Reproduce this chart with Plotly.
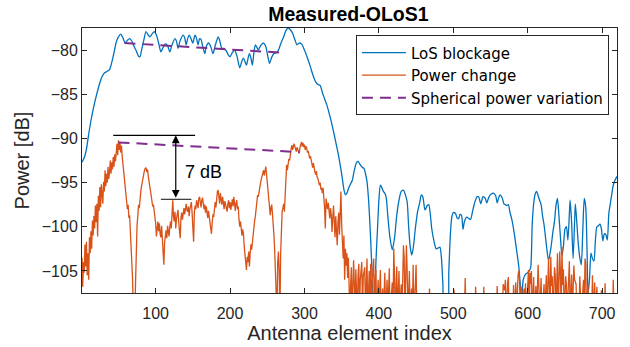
import plotly.graph_objects as go

# ---------------- data ----------------
# LoS blockage (blue): (antenna element index, power dB)
los_points = [
    (1, -92.7), (4, -92.2), (7, -91.2), (10, -89.5), (13, -88.0), (16, -86.7), (19, -85.6),
    (22, -84.6), (25, -83.7), (28, -83.0), (31, -82.6), (35, -82.4), (38, -82.2), (41, -81.4),
    (44, -80.3), (47, -79.1), (50, -78.5), (53, -78.2), (56, -78.6), (59, -79.2), (62, -78.9),
    (65, -78.7), (68, -79.0), (71, -79.6), (74, -80.1), (77, -80.7), (79, -80.75), (81, -80.0),
    (84, -78.9), (87, -77.9), (90, -78.3), (92, -78.5), (95, -78.2), (98, -77.9), (101, -78.3),
    (104, -79.2), (107, -80.2), (110, -79.7), (113, -79.3), (116, -79.5), (119, -80.2),
    (122, -79.4), (126, -78.7), (128, -79.0), (130, -79.8), (133, -78.9), (137, -78.3),
    (139, -78.6), (141, -79.4), (143, -78.7), (145, -78.3), (147, -78.6), (150, -79.2),
    (152, -78.5), (153, -78.3), (155, -78.7), (157, -79.4), (159, -78.7), (161, -78.8),
    (163, -79.5), (166, -80.4), (168, -79.6), (171, -79.2), (174, -79.6), (177, -80.4),
    (180, -79.5), (184, -78.5), (186, -78.9), (189, -79.8), (192, -79.8), (195, -80.1),
    (198, -80.6), (200, -80.75), (203, -80.3), (206, -80.0), (209, -80.6), (213, -82.0),
    (216, -81.2), (218, -80.9), (220, -81.3), (222, -81.7), (224, -81.0), (226, -80.4),
    (228, -80.9), (230, -81.7), (232, -80.3), (234, -79.4), (236, -79.7), (238, -80.0),
    (241, -79.5), (245, -79.2), (248, -79.6), (250, -80.4), (253, -81.5), (256, -80.8),
    (259, -80.4), (262, -80.3), (265, -80.0), (268, -79.3), (272, -78.5), (275, -77.8),
    (278, -77.5), (281, -77.7), (284, -78.1), (287, -78.8), (290, -79.4), (293, -79.2),
    (296, -79.3), (300, -80.0), (304, -80.9), (308, -81.9), (312, -83.0), (315, -83.6),
    (318, -83.9), (321, -84.0), (324, -84.8), (327, -85.5), (330, -86.2), (333, -87.1),
    (336, -88.1), (339, -89.2), (342, -90.4), (345, -91.6), (348, -93.0), (351, -94.6),
    (353, -95.8), (355, -96.4), (357, -96.2), (359, -95.7), (361, -95.3), (364, -94.8),
    (367, -93.6), (370, -92.7), (372, -92.6), (375, -93.0), (378, -93.3), (380, -93.4),
    (382, -94.0), (384, -94.9), (386, -96.8), (388, -99.8), (390, -103.5), (392, -107.6),
    (394, -110.0), (396, -104.0), (398, -100.5), (400, -97.0), (402, -95.3), (404, -95.6),
    (406, -96.0), (408, -96.2), (410, -96.8), (412, -98.8), (415, -101.3), (418, -102.6),
    (421, -101.3), (424, -98.7), (427, -97.0), (430, -96.0), (433, -95.85), (436, -96.5),
    (438, -97.2), (440, -100.0), (442, -102.2), (444, -103.2), (446, -102.5), (449, -100.2),
    (452, -98.3), (455, -97.2), (457, -96.4), (459, -96.6), (462, -98.1), (465, -97.6),
    (467, -97.5), (469, -98.5), (471, -100.2), (474, -101.6), (477, -102.5), (480, -102.4),
    (482, -102.3), (484, -103.5), (486, -106.5), (488, -110.0), (492, -110.0), (494, -105.0),
    (496, -101.0), (498, -98.9), (500, -98.4), (503, -98.5), (505, -99.0), (507, -99.1),
    (509, -98.6), (511, -98.7), (513, -100.3), (515, -99.4), (518, -98.9), (520, -99.0),
    (523, -99.2), (526, -98.2), (529, -97.2), (532, -96.6), (534, -96.6), (537, -97.4),
    (540, -96.6), (543, -96.8), (545, -97.3), (548, -96.6), (551, -96.3), (554, -96.2),
    (557, -96.5), (559, -97.3), (561, -96.7), (563, -96.4), (566, -96.8), (568, -97.4),
    (570, -97.5), (572, -97.6), (574, -97.5), (576, -98.3), (579, -99.3), (582, -100.8),
    (585, -102.6), (588, -104.5), (590, -106.5), (592, -108.0), (594, -106.0), (597, -105.4),
    (600, -105.2), (602, -105.0), (604, -104.6), (606, -99.8), (608, -97.4), (610, -96.3),
    (612, -96.0), (614, -96.5), (616, -97.0), (618, -97.5), (620, -98.8), (622, -99.8),
    (625, -102.0), (628, -103.8), (631, -102.5), (634, -100.5), (636, -99.4), (638, -97.6),
    (640, -96.8), (642, -98.8), (644, -101.2), (646, -103.3), (648, -102.2), (650, -100.3),
    (652, -100.0), (654, -101.5), (656, -98.5), (657, -97.0), (659, -99.5), (661, -103.6),
    (663, -99.5), (664, -97.4), (666, -99.5), (668, -102.0), (670, -103.5), (672, -104.3),
    (674, -100.5), (676, -96.8), (678, -97.8), (680, -103.8), (681, -107.6), (683, -106.0),
    (685, -103.0), (687, -103.6), (689, -103.9), (691, -101.5), (693, -100.0), (695, -99.9),
    (697, -99.7), (699, -100.2), (701, -101.6), (703, -100.8), (705, -100.9), (707, -101.5),
    (709, -98.5), (711, -97.4), (713, -96.3), (715, -95.3), (717, -94.8), (720, -94.3),
]

# Power change (orange): (antenna element index, power dB); -110 = below the axis
pc_points = [
    (1, -103.5), (2, -106.8), (3, -104.0), (4, -105.2), (5, -102.0), (6, -104.5), (7, -101.7),
    (8, -105.5), (9, -103.0), (10, -106.0), (11, -101.2), (12, -103.0), (13, -100.5), (14, -102.5),
    (15, -99.3), (16, -101.0), (17, -98.8), (18, -100.2), (19, -97.6), (20, -99.5), (21, -97.4),
    (22, -101.1), (23, -96.5), (24, -98.2), (25, -95.5), (26, -97.8), (27, -95.2), (28, -96.9),
    (29, -97.4), (30, -94.9), (31, -96.0), (32, -93.6), (33, -95.4), (34, -94.0), (35, -95.0),
    (36, -93.2), (37, -94.6), (38, -93.8), (39, -92.5), (40, -94.0), (41, -92.7), (42, -93.5),
    (43, -92.1), (44, -93.2), (45, -91.8), (46, -92.6), (47, -91.4), (48, -90.6), (49, -91.9),
    (50, -90.2), (51, -91.3), (52, -90.5), (53, -91.6), (54, -90.8), (55, -92.0), (56, -92.9),
    (57, -93.7), (58, -94.8), (59, -95.5), (60, -96.3), (61, -97.2), (62, -98.0), (63, -97.5),
    (64, -99.0), (65, -98.7), (66, -100.3), (67, -101.8), (68, -103.7), (69, -106.0), (70, -110.0),
    (72, -110.0), (73, -106.2), (74, -102.0), (75, -99.8), (76, -98.8), (77, -97.5), (78, -97.9),
    (79, -96.6), (80, -96.0), (81, -95.4), (82, -94.8), (83, -94.5), (84, -94.0), (85, -93.6),
    (86, -93.4), (87, -93.3), (88, -93.8), (89, -93.5), (90, -94.2), (91, -94.6), (92, -95.4),
    (93, -95.9), (94, -96.4), (95, -97.1), (96, -97.7), (97, -97.5), (98, -98.2), (99, -98.5),
    (100, -99.6), (101, -101.1), (102, -100.0), (103, -99.4), (104, -100.5), (105, -99.6),
    (106, -100.8), (107, -101.2), (108, -99.9), (109, -101.5), (110, -102.6), (111, -104.3),
    (112, -101.8), (113, -100.6), (114, -100.4), (115, -101.3), (116, -99.9), (117, -100.5),
    (118, -101.1), (119, -100.0), (120, -99.4), (121, -100.2), (122, -98.6), (123, -97.0),
    (124, -98.9), (125, -99.4), (126, -98.3), (127, -100.2), (128, -99.1), (129, -98.3),
    (130, -98.1), (131, -99.5), (132, -100.6), (133, -101.3), (134, -99.0), (135, -98.4),
    (136, -99.2), (137, -98.5), (138, -97.9), (139, -98.6), (140, -97.8), (141, -97.4),
    (142, -98.1), (143, -98.3), (144, -97.7), (145, -98.8), (146, -98.0), (147, -97.5),
    (148, -97.2), (149, -98.5), (150, -99.6), (151, -101.7), (152, -98.4), (153, -97.6),
    (154, -98.0), (155, -97.0), (156, -97.4), (157, -97.9), (158, -96.8), (159, -96.6),
    (160, -97.2), (161, -97.8), (162, -97.0), (163, -96.7), (164, -97.4), (165, -98.0),
    (166, -97.5), (167, -98.4), (168, -97.7), (169, -98.6), (170, -99.0), (171, -98.2),
    (172, -98.8), (173, -99.2), (174, -99.9), (175, -100.8), (176, -99.5), (177, -98.6),
    (178, -98.9), (179, -97.7), (180, -97.2), (181, -97.8), (182, -96.5), (183, -96.0),
    (184, -95.85), (185, -96.8), (186, -97.4), (187, -96.2), (188, -96.9), (189, -97.5),
    (190, -96.6), (191, -97.3), (192, -98.0), (193, -97.1), (194, -97.6), (195, -97.7),
    (196, -98.3), (197, -97.4), (198, -97.0), (199, -97.9), (200, -97.2), (201, -98.1),
    (202, -97.5), (203, -96.9), (204, -97.7), (205, -96.6), (206, -97.3), (207, -98.2),
    (208, -97.4), (209, -97.0), (210, -98.0), (211, -97.7), (212, -99.2), (213, -100.0),
    (214, -99.4), (215, -100.5), (216, -101.0), (217, -100.3), (218, -100.8), (219, -102.2),
    (220, -103.0), (221, -103.8), (222, -104.9), (223, -103.4), (224, -104.0), (225, -102.8),
    (226, -104.5), (227, -103.0), (228, -102.0), (229, -102.6), (230, -101.5), (231, -101.1),
    (232, -100.0), (233, -99.3), (234, -98.8), (235, -98.1), (236, -97.0), (237, -96.4),
    (238, -96.6), (239, -95.9), (240, -95.5), (241, -95.0), (242, -94.6), (243, -94.3),
    (244, -94.1), (245, -93.6), (246, -94.2), (247, -93.7), (248, -93.2), (249, -94.0),
    (250, -94.9), (251, -95.6), (252, -96.6), (253, -98.1), (254, -98.7), (255, -97.8),
    (256, -97.5), (257, -98.6), (258, -99.5), (259, -101.0), (260, -102.8), (261, -104.9),
    (262, -107.4), (263, -110.0), (264, -104.0), (265, -102.8), (266, -105.0), (267, -110.0),
    (268, -103.0), (269, -98.7), (270, -98.2), (271, -97.9), (272, -97.4), (273, -98.3),
    (274, -96.5), (275, -94.7), (276, -93.0), (277, -93.6), (278, -92.8), (279, -92.3),
    (280, -92.5), (281, -91.6), (282, -91.2), (283, -90.75), (284, -91.3), (285, -91.0),
    (286, -90.6), (287, -90.9), (288, -91.2), (289, -91.5), (290, -91.0), (291, -91.3),
    (292, -91.6), (293, -91.7), (294, -91.0), (295, -90.7), (296, -90.4), (297, -90.9),
    (298, -90.5), (299, -91.0), (300, -90.7), (301, -91.3), (302, -90.9), (303, -91.1),
    (304, -91.6), (305, -91.4), (306, -92.0), (307, -92.26), (308, -92.0), (309, -92.6),
    (310, -92.9), (311, -93.3), (312, -92.8), (313, -93.5), (314, -93.8), (315, -94.1),
    (316, -93.7), (317, -94.4), (318, -94.5), (319, -94.9), (320, -95.3), (321, -95.0),
    (322, -95.7), (323, -95.65), (324, -96.2), (325, -95.6), (326, -96.5), (327, -97.8),
    (328, -100.2), (329, -96.8), (330, -97.4), (331, -98.0), (332, -97.3), (333, -98.4),
    (334, -99.05), (335, -97.9), (336, -98.6), (337, -100.6), (338, -98.2), (339, -97.6),
    (340, -99.3), (341, -101.2), (342, -98.8), (343, -100.4), (344, -102.1), (345, -99.5),
    (346, -98.4), (347, -100.9), (348, -97.5), (349, -96.0), (350, -99.8), (351, -101.8),
    (352, -103.6), (353, -101.0), (354, -106.0), (355, -102.5), (356, -104.4), (357, -103.0),
    (358, -105.8), (359, -103.5), (360, -106.9), (361, -110.0), (362, -106.6), (363, -104.6),
    (364, -110.0), (365, -105.0), (366, -103.8), (367, -106.5), (368, -110.0), (369, -104.8),
    (370, -106.5), (371, -110.0), (372, -105.5), (373, -104.2), (374, -110.0), (375, -106.0),
    (377, -104.0), (378, -110.0), (379, -105.6), (381, -104.6), (382, -110.0), (383, -106.5),
    (384, -103.6), (385, -110.0), (386, -106.0), (387, -105.0), (388, -110.0), (389, -104.2),
    (390, -110.0), (391, -106.2), (393, -103.6), (394, -110.0), (395, -106.0), (396, -104.8),
    (397, -110.0), (399, -106.0), (400, -110.0), (402, -104.9), (403, -110.0), (405, -107.0),
    (406, -110.0), (408, -105.2), (409, -110.0), (411, -106.0), (412, -110.0), (414, -104.7),
    (415, -110.0), (418, -106.3), (419, -110.0), (420, -102.45), (421, -105.5), (422, -110.0),
    (424, -104.5), (425, -110.0), (427, -105.0), (428, -110.0), (430, -106.5), (431, -110.0),
    (433, -102.1), (434, -103.5), (435, -110.0), (437, -102.1), (438, -105.0), (439, -110.0),
    (441, -105.0), (442, -110.0), (444, -107.0), (445, -110.0), (446, -104.3), (447, -110.0),
    (449, -106.5), (450, -104.3), (451, -110.0), (467, -110.0), (468, -107.0), (469, -110.0),
    (500, -110.0), (501, -107.1), (502, -110.0), (515, -110.0), (516, -105.8), (517, -110.0),
    (529, -110.0), (530, -106.8), (531, -110.0), (540, -110.0), (541, -106.8), (542, -110.0),
    (558, -110.0), (559, -106.7), (560, -110.0), (566, -110.0), (567, -106.5), (568, -106.8),
    (569, -107.2), (570, -106.0), (571, -110.0), (573, -106.3), (574, -105.7), (575, -110.0),
    (580, -110.0), (581, -106.6), (582, -110.0), (584, -106.3), (585, -110.0), (587, -105.5),
    (588, -105.0), (589, -106.0), (590, -110.0), (591, -106.8), (592, -107.1), (593, -110.0),
    (595, -107.0), (596, -110.0), (597, -106.4), (598, -110.0), (600, -107.0), (601, -104.9),
    (602, -110.0), (603, -105.2), (604, -106.5), (605, -105.0), (606, -110.0), (608, -105.7),
    (609, -110.0), (611, -106.7), (612, -110.0), (614, -104.3), (615, -106.8), (616, -110.0),
    (618, -105.8), (619, -110.0), (622, -106.5), (623, -110.0), (625, -105.5), (626, -110.0),
    (628, -103.6), (629, -106.0), (630, -110.0), (631, -103.4), (632, -106.7), (633, -105.6),
    (634, -110.0), (636, -104.6), (637, -105.5), (638, -110.0), (639, -103.3), (640, -103.0),
    (641, -110.0), (643, -102.8), (644, -105.2), (645, -110.0), (646, -102.3), (647, -106.6),
    (648, -104.8), (649, -110.0), (651, -105.6), (652, -106.6), (653, -110.0), (655, -104.1),
    (656, -103.9), (657, -110.0), (659, -105.4), (660, -110.0), (662, -104.4), (663, -106.0),
    (665, -106.5), (666, -110.0), (669, -110.0), (670, -105.6), (671, -106.8), (672, -110.0),
    (675, -106.0), (676, -110.0), (677, -103.6), (678, -104.2), (679, -110.0), (681, -106.5),
    (682, -110.0), (686, -110.0), (687, -105.5), (688, -110.0), (690, -106.3), (691, -110.0),
    (693, -106.8), (694, -110.0), (698, -110.0), (699, -107.2), (700, -110.0), (703, -110.0),
    (704, -106.4), (705, -110.0), (714, -110.0), (715, -106.0), (716, -110.0), (720, -110.0),
]

# Spherical power variation (purple dashed)
sph_upper_idx = [58, 270]
sph_upper_db = [-79.2, -80.3]
sph_lower_idx = [50, 293]
sph_lower_db = [-90.45, -91.55]

# "7 dB" annotation marker levels
ann_top_idx = [43, 153]
ann_top_db = -89.65
ann_bot_idx = [107, 148]
ann_bot_db = -96.9
ann_arrow_idx = 127
ann_text = "7 dB"
ann_text_pos = (137, -93.75)

x_ticks = [100, 200, 300, 400, 500, 600, 700]
y_ticks = [-105, -100, -95, -90, -85, -80]

# ---------------- figure ----------------
BLUE = "#0072BD"
ORANGE = "#D95319"
PURPLE = "#7E2F8E"
AX = "#262626"
FONT = "Liberation Sans, Arial, Helvetica, sans-serif"
LEG_FONT = "DejaVu Sans, Liberation Sans, sans-serif"

los_x = [p[0] for p in los_points]
los_y = [p[1] for p in los_points]
pc_x = [p[0] for p in pc_points]
pc_y = [p[1] for p in pc_points]

fig = go.Figure()
fig.add_trace(go.Scatter(x=los_x, y=los_y, mode="lines", name="LoS blockage",
                         line=dict(color=BLUE, width=1.3, shape="spline", smoothing=0.7)))
fig.add_trace(go.Scatter(x=pc_x, y=pc_y, mode="lines", name="Power change",
                         line=dict(color=ORANGE, width=1.3)))
fig.add_trace(go.Scatter(x=sph_upper_idx, y=sph_upper_db, mode="lines",
                         name="Spherical power variation",
                         line=dict(color=PURPLE, width=2, dash="11px,7px")))
fig.add_trace(go.Scatter(x=sph_lower_idx, y=sph_lower_db, mode="lines",
                         name="Spherical power variation", showlegend=False,
                         line=dict(color=PURPLE, width=2, dash="11px,7px")))

# annotation marker lines
fig.add_shape(type="line", xref="x", yref="y", x0=ann_top_idx[0], x1=ann_top_idx[1],
              y0=ann_top_db, y1=ann_top_db, line=dict(color="black", width=1.3))
fig.add_shape(type="line", xref="x", yref="y", x0=ann_bot_idx[0], x1=ann_bot_idx[1],
              y0=ann_bot_db, y1=ann_bot_db, line=dict(color="#404040", width=1.3))
fig.add_annotation(x=ann_arrow_idx, y=ann_top_db, ax=ann_arrow_idx, ay=ann_bot_db,
                   xref="x", yref="y", axref="x", ayref="y", text="",
                   showarrow=True, arrowhead=2, arrowside="end+start",
                   arrowsize=1.3, arrowwidth=1.2, arrowcolor="black")
fig.add_annotation(x=ann_text_pos[0], y=ann_text_pos[1], xref="x", yref="y",
                   text=ann_text, showarrow=False, xanchor="left", yanchor="middle",
                   font=dict(family=FONT, size=18, color="black"))

fig.update_layout(
    width=630, height=347,
    margin=dict(l=82, r=13, t=28, b=54, pad=0),
    paper_bgcolor="white", plot_bgcolor="white",
    font=dict(family=FONT, color=AX, size=16),
    title=dict(text="<b>Measured-OLoS1</b>", x=0.553, xanchor="center",
               y=1 - 14 / 347, yanchor="middle", yref="container",
               font=dict(family=FONT, size=19.5, color="black")),
    legend=dict(x=0.512, y=0.972, xanchor="left", yanchor="top",
                bgcolor="white", bordercolor=AX, borderwidth=1,
                font=dict(family=LEG_FONT, size=15, color="black"),
                tracegroupgap=0, itemwidth=44),
    showlegend=True,
)
fig.update_xaxes(range=[1, 720], tickvals=x_ticks, ticks="inside", ticklen=5,
                 tickcolor=AX, showline=True, linecolor=AX, linewidth=1, mirror="ticks",
                 showgrid=False, zeroline=False, ticklabelstandoff=6, automargin=False,
                 tickfont=dict(family=FONT, size=16, color=AX),
                 title=dict(text="Antenna element index", standoff=4,
                            font=dict(family=FONT, size=20, color=AX)))
fig.update_yaxes(range=[-107.5, -77.5], tickvals=y_ticks, ticks="inside", ticklen=5,
                 tickcolor=AX, showline=True, linecolor=AX, linewidth=1, mirror="ticks",
                 showgrid=False, zeroline=False, automargin=False,
                 tickfont=dict(family=FONT, size=16, color=AX),
                 title=dict(text="Power [dB]", standoff=6,
                            font=dict(family=FONT, size=20, color=AX)))

fig.write_html("out.html")
